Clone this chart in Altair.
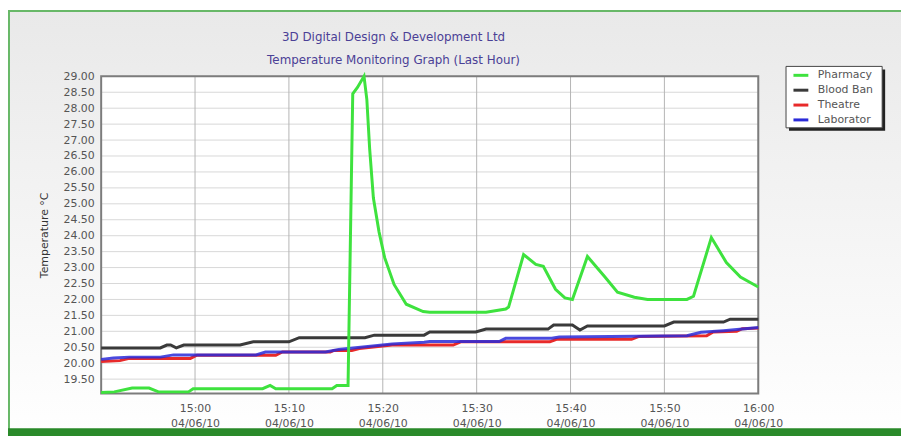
import altair as alt
import pandas as pd

DATE = "2010-06-04"

# ---- data -------------------------------------------------------------
pharmacy_time = ["14:50:00", "14:51:24", "14:53:18", "14:55:06", "14:56:06", "14:59:18", "14:59:48",
                 "15:07:12", "15:08:00", "15:08:36", "15:14:36", "15:15:06", "15:16:18", "15:16:48",
                 "15:17:18", "15:18:00", "15:18:18", "15:18:36", "15:19:00", "15:19:36", "15:20:12",
                 "15:21:12", "15:22:30", "15:24:18", "15:25:00", "15:31:00", "15:33:06", "15:33:24",
                 "15:35:00", "15:36:18", "15:37:06", "15:38:24", "15:39:24", "15:40:12", "15:41:48",
                 "15:43:36", "15:45:00", "15:46:48", "15:48:12", "15:52:24", "15:53:06", "15:55:00",
                 "15:56:36", "15:58:06", "16:00:00"]
pharmacy_temp = [19.08, 19.10, 19.22, 19.22, 19.10, 19.10, 19.20,
                 19.20, 19.30, 19.20, 19.20, 19.30, 19.30, 28.45,
                 28.65, 29.00, 28.28, 26.73, 25.18, 24.12, 23.31,
                 22.47, 21.85, 21.62, 21.60, 21.60, 21.70, 21.76,
                 23.41, 23.10, 23.04, 22.32, 22.05, 22.00, 23.35,
                 22.73, 22.23, 22.07, 22.00, 22.00, 22.10, 23.94,
                 23.16, 22.70, 22.39]

blood_time = ["14:50:00", "14:56:18", "14:57:00", "14:57:24", "14:58:00", "14:58:48", "15:04:48",
              "15:06:12", "15:10:00", "15:11:06", "15:18:06", "15:19:06", "15:24:24", "15:25:00",
              "15:29:54", "15:31:00", "15:37:36", "15:38:12", "15:40:12", "15:41:00", "15:41:48",
              "15:50:00", "15:51:00", "15:56:18", "15:57:00", "16:00:00"]
blood_temp = [20.48, 20.48, 20.57, 20.57, 20.48, 20.57, 20.57,
              20.67, 20.67, 20.80, 20.80, 20.88, 20.88, 20.98,
              20.98, 21.07, 21.07, 21.20, 21.20, 21.04, 21.17,
              21.17, 21.29, 21.29, 21.38, 21.38]

theatre_time = ["14:50:00", "14:52:00", "14:53:00", "14:59:30", "15:00:12", "15:08:36", "15:09:18",
                "15:14:24", "15:14:48", "15:16:42", "15:17:30", "15:21:00", "15:27:30", "15:28:18",
                "15:37:48", "15:38:30", "15:46:30", "15:47:18", "15:54:30", "15:55:12", "15:57:42",
                "15:58:18", "16:00:00"]
theatre_temp = [20.05, 20.08, 20.15, 20.15, 20.25, 20.25, 20.35,
                20.35, 20.40, 20.40, 20.46, 20.57, 20.57, 20.67,
                20.67, 20.75, 20.75, 20.84, 20.86, 20.98, 21.00,
                21.08, 21.10]

lab_time = ["14:50:00", "14:51:18", "14:53:00", "14:56:18", "14:57:42", "15:06:30", "15:07:30",
            "15:13:54", "15:15:18", "15:21:00", "15:24:24", "15:25:00", "15:32:24", "15:33:06",
            "15:38:00", "15:38:48", "15:52:24", "15:53:54", "15:56:18", "16:00:00"]
lab_temp = [20.12, 20.16, 20.19, 20.19, 20.26, 20.26, 20.35,
            20.35, 20.43, 20.60, 20.66, 20.68, 20.68, 20.78,
            20.78, 20.82, 20.86, 20.97, 21.02, 21.12]

series_names = ["Pharmacy", "Blood Ban", "Theatre", "Laborator"]
series_colors = ["#3ee23e", "#3a3a3a", "#e82a2a", "#2a2ad8"]
draw_order = ["Blood Ban", "Theatre", "Laborator", "Pharmacy"]

y_ticks = [19.5, 20.0, 20.5, 21.0, 21.5, 22.0, 22.5, 23.0, 23.5, 24.0,
           24.5, 25.0, 25.5, 26.0, 26.5, 27.0, 27.5, 28.0, 28.5, 29.0]
x_ticks = ["15:00", "15:10", "15:20", "15:30", "15:40", "15:50", "16:00"]

title_lines = ["3D Digital Design & Development Ltd", "Temperature Monitoring Graph (Last Hour)"]
y_title = "Temperature °C"

# ---- layout -----------------------------------------------------------
W, H = 663, 320
PL, PT, PR, PB = 94, 67, 144, 43
FONT = "DejaVu Sans"


def stamp(t):
    return f"{DATE}T{t}"


rows = []
for name, times, temps in [("Pharmacy", pharmacy_time, pharmacy_temp),
                           ("Blood Ban", blood_time, blood_temp),
                           ("Theatre", theatre_time, theatre_temp),
                           ("Laborator", lab_time, lab_temp)]:
    for t, v in zip(times, temps):
        rows.append({"series": name, "time": stamp(t), "temp": v})
df = pd.DataFrame(rows)


def dt(hm):
    h, m = hm.split(":")
    return alt.DateTime(year=2010, month=6, date=4, hours=int(h), minutes=int(m))


x_scale = alt.Scale(domain=[dt("14:50"), dt("16:00")])
y_scale = alt.Scale(domain=[19.05, 29.0], nice=False, zero=False)

x_axis = alt.Axis(title="", values=[dt(s) for s in x_ticks],
                  labelExpr="[timeFormat(datum.value, '%H:%M'), timeFormat(datum.value, '%d/%m/%y')]",
                  grid=False, ticks=False, domain=False, labelPadding=9, labelLineHeight=15,
                  labelFontSize=11, labelFont=FONT, labelColor="#555555", labelBaseline="top",
                  labelFlush=False, labelOverlap=False, zindex=1)
y_axis = alt.Axis(title=y_title, values=y_ticks, format=".2f", grid=False, ticks=False, domain=False,
                  labelPadding=7, labelFontSize=11, labelFont=FONT, labelColor="#555555",
                  labelFlush=False, labelOverlap=False,
                  titleFont=FONT, titleFontSize=11, titleFontWeight="normal", titleColor="#333333",
                  titleX=-57, titleY=H / 2, titleAngle=270, titleBaseline="middle", zindex=1)

X = alt.X("time:T", scale=x_scale, axis=x_axis)
Y = alt.Y("temp:Q", scale=y_scale, axis=y_axis)

one = pd.DataFrame({"k": [0]})


def box(x0, x1, y0, y1, **kw):
    return alt.Chart(one).mark_rect(**kw).encode(
        x=alt.value(x0), x2=alt.value(x1), y=alt.value(y0), y2=alt.value(y1))


bg = box(-PL, W + PR, -PT, H + PB,
         color=alt.Gradient(gradient="linear",
                            stops=[alt.GradientStop(color="#e9e9e9", offset=0),
                                   alt.GradientStop(color="#ffffff", offset=1)],
                            x1=0, x2=0, y1=0, y2=1))
top_line = box(-PL, W + PR, -PT, -PT + 2, color="#68b868")
left_line = box(-PL, -PL + 2, -PT, H + PB, color="#68b868")
bottom_bar = box(-PL, W + PR, H + PB - 8, H + PB, color="#2a8a2a")

plot_bg = box(0, W, 0, H, color="#ffffff")

hgrid = alt.Chart(pd.DataFrame({"temp": y_ticks})).mark_rule(color="#d8d8d8", strokeWidth=1).encode(
    y=Y, x=alt.value(0), x2=alt.value(W))
vgrid = alt.Chart(pd.DataFrame({"time": [stamp(t + ":00") for t in x_ticks]})).mark_rule(
    color="#b4b4b4", strokeWidth=1).encode(x=X, y=alt.value(0), y2=alt.value(H))

border = box(0, W, 0, H, fillOpacity=0, stroke="#7c7c7c", strokeWidth=2)

legend = alt.Legend(title=None, orient="none", legendX=697, legendY=-10, symbolType="stroke",
                    symbolSize=225, symbolStrokeWidth=3, labelFont=FONT, labelFontSize=11,
                    labelColor="#555555", rowPadding=0, padding=0, labelOffset=8)
color = alt.Color("series:N", scale=alt.Scale(domain=series_names, range=series_colors), legend=legend)

lines = []
for name in draw_order:
    lines.append(
        alt.Chart(df).transform_filter(alt.datum.series == name).mark_line(
            strokeWidth=3, opacity=0.85 if name == "Laborator" else 1.0
        ).encode(x=X, y=Y, color=color)
    )

lx0, lx1, ly0, ly1 = 691, 788, -10, 52
leg_shadow = box(lx0 + 3, lx1 + 3, ly0 + 3, ly1 + 3, color="#222222")
leg_box = box(lx0, lx1, ly0, ly1, color="#ffffff", stroke="#444444", strokeWidth=1)

titles = []
for txt, ty in zip(title_lines, [-40, -16]):
    titles.append(
        alt.Chart(pd.DataFrame({"t": [txt]})).mark_text(
            font=FONT, fontSize=12, color="#4a4096", align="center", baseline="middle"
        ).encode(text="t:N", x=alt.value(295), y=alt.value(ty))
    )

chart = alt.layer(
    bg, top_line, left_line, bottom_bar, plot_bg, hgrid, vgrid, border, *lines,
    leg_shadow, leg_box, *titles
).properties(
    width=W, height=H,
    padding={"left": PL, "top": PT, "right": PR, "bottom": PB},
    autosize=alt.AutoSizeParams(type="none"),
).configure_view(strokeWidth=0)

chart.save("out.html", embed_options={"renderer": "svg", "actions": False})
